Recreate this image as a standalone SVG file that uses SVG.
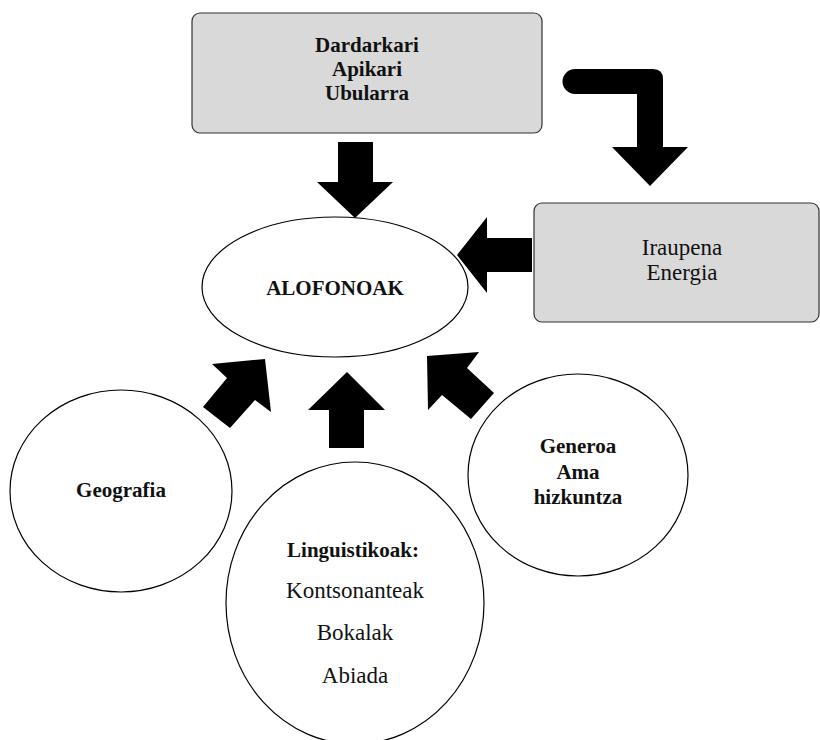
<svg xmlns="http://www.w3.org/2000/svg" width="820" height="740" viewBox="0 0 820 740">
<style>
.box{fill:#d9d9d9;stroke:#333;stroke-width:1.2}
.ell{fill:#fff;stroke:#000;stroke-width:1.2}
.arr{fill:#000;stroke:none}
.t{font-family:'Liberation Serif','DejaVu Serif',serif;fill:#111;text-anchor:middle}
.b{font-weight:bold;font-size:21px}
.r{font-size:23px}
</style>
<rect x="0" y="0" width="820" height="740" fill="#fff"/>
<g id="connectors">
<polygon class="arr" points="338,142 373,142 373,182 393,182 355,218 317,182 338,182"/>
<path class="arr" d="M575 69 L653 69 Q663 69 663 79 L663 147 L688 147 L650 186 L612 147 L637 147 L637 94 L575 94 A12.5 12.5 0 0 1 575 69 Z"/>
<polygon class="arr" points="532,238 487,238 487,217 457,255 487,293 487,272 532,272"/>
<polygon class="arr" points="265,359 271,412 255,400 230,428 203,407 227,378 212,364"/>
<polygon class="arr" points="347,372 385,410 364,410 364,448 329,448 329,410 308,410"/>
<polygon class="arr" points="427,356 479,352 467,368 494,393 471,419 442,395 428,410"/>
</g>
<g id="dardarkari">
<rect class="box" x="192" y="13" width="350" height="120" rx="8"/>
<text class="t b" x="367" y="52">Dardarkari</text>
<text class="t b" x="367" y="76">Apikari</text>
<text class="t b" x="367" y="100">Ubularra</text>
</g>
<g id="iraupena">
<rect class="box" x="534" y="203" width="285" height="119" rx="8"/>
<text class="t r" x="682" y="255">Iraupena</text>
<text class="t r" x="682" y="280">Energia</text>
</g>
<g id="alofonoak">
<ellipse class="ell" cx="335" cy="287" rx="133" ry="70"/>
<text class="t b" x="335" y="295">ALOFONOAK</text>
</g>
<g id="geografia">
<ellipse class="ell" cx="121" cy="491" rx="111" ry="101"/>
<text class="t b" x="121" y="497">Geografia</text>
</g>
<g id="linguistikoak">
<ellipse class="ell" cx="355" cy="603" rx="129" ry="141"/>
<text class="t b" x="353" y="557">Linguistikoak:</text>
<text class="t r" x="355" y="598">Kontsonanteak</text>
<text class="t r" x="355" y="640">Bokalak</text>
<text class="t r" x="355" y="683">Abiada</text>
</g>
<g id="generoa">
<ellipse class="ell" cx="578" cy="475" rx="110" ry="101"/>
<text class="t b" x="578" y="453">Generoa</text>
<text class="t b" x="578" y="479">Ama</text>
<text class="t b" x="578" y="504">hizkuntza</text>
</g>
</svg>
